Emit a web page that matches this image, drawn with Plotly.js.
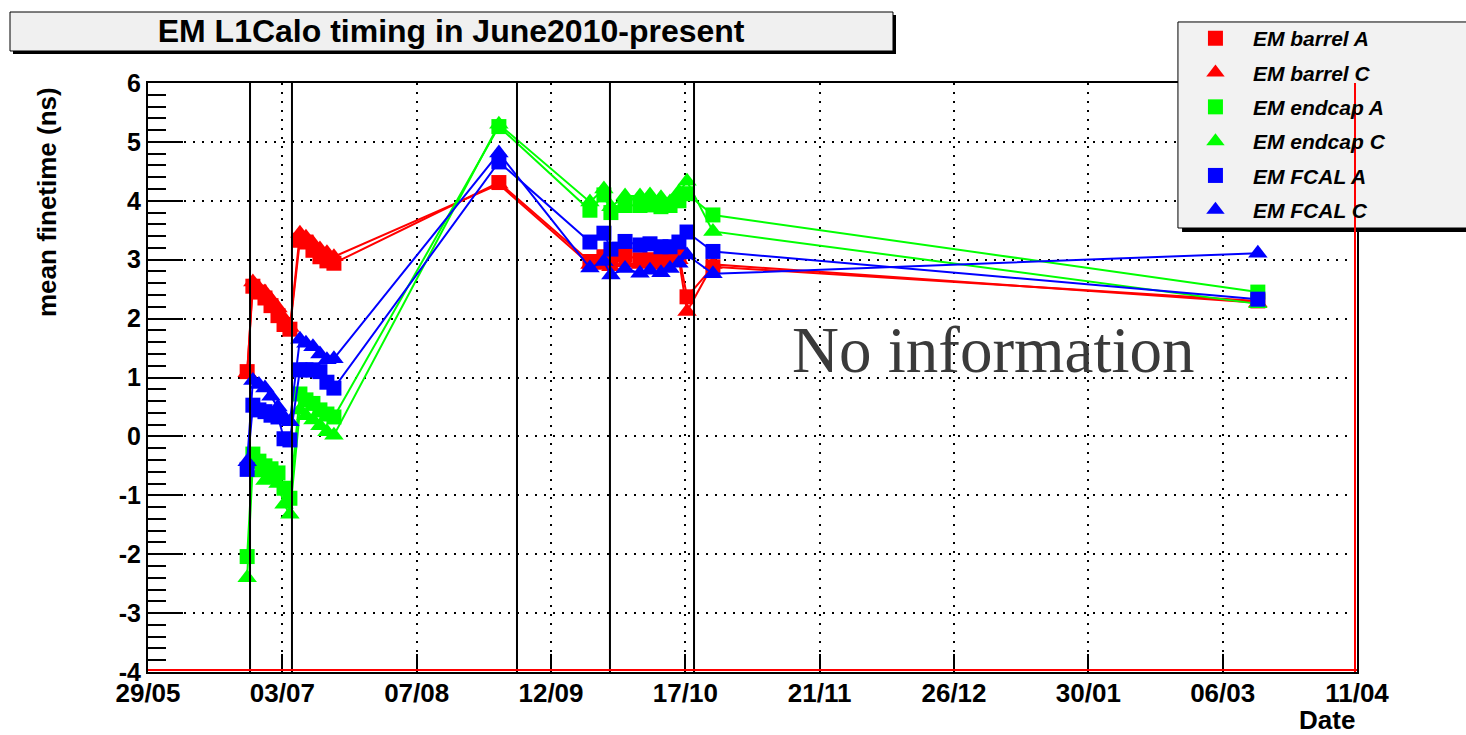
<!DOCTYPE html>
<html>
<head>
<meta charset="utf-8">
<script src="https://cdn.plot.ly/plotly-3.0.1.min.js"></script>
<style>
  html, body { margin: 0; padding: 0; background: #ffffff; }
  #chart { width: 1466px; height: 735px; }
</style>
</head>
<body>
<div id="chart"></div>
<script>
// Calibration runs (date of each run)
const runDates = [
  '2010-06-24 00:00', '2010-06-25 12:00', '2010-06-27 02:00', '2010-06-28 16:00',
  '2010-06-30 06:00', '2010-07-02 02:00', '2010-07-03 16:00', '2010-07-05 05:00',
  '2010-07-07 20:00', '2010-07-09 10:00', '2010-07-11 06:00', '2010-07-13 02:00',
  '2010-07-14 22:00', '2010-07-16 18:00',
  '2010-08-29 00:00',
  '2010-09-21 21:00', '2010-09-25 13:00', '2010-09-27 09:00', '2010-10-01 02:00',
  '2010-10-05 00:00', '2010-10-07 15:00', '2010-10-10 12:00', '2010-10-12 21:00',
  '2010-10-15 05:00', '2010-10-17 08:00', '2010-10-24 03:00',
  '2011-03-16 00:00'
];

// Mean finetime (ns) per partition
const emBarrelA  = [1.10, 2.55, 2.45, 2.35, 2.22, 2.05, 1.90, 1.82, 3.33, 3.30, 3.16, 3.05, 2.98, 2.94, 4.31,
                    2.97, 3.05, 3.00, 3.08, 3.00, 3.00, 2.97, 3.02, 3.08, 2.37, 2.88, 2.30];
const emBarrelC  = [1.08, 2.62, 2.52, 2.45, 2.33, 2.18, 2.00, 1.85, 3.45, 3.38, 3.28, 3.18, 3.12, 3.05, 4.28,
                    2.92, 2.90, 2.88, 2.95, 2.92, 2.95, 2.90, 2.95, 3.00, 2.12, 2.92, 2.27];
const emEndcapA  = [-2.04, -0.30, -0.42, -0.50, -0.55, -0.62, -0.88, -1.05, 0.72, 0.62, 0.56, 0.45, 0.38, 0.33, 5.26,
                    3.84, 4.10, 3.80, 3.92, 3.92, 3.93, 3.90, 3.92, 4.00, 4.12, 3.76, 2.45];
const emEndcapC  = [-2.40, -0.45, -0.62, -0.75, -0.72, -0.80, -1.15, -1.32, 0.45, 0.35, 0.28, 0.18, 0.08, 0.02, 5.30,
                    3.98, 4.20, 3.90, 4.08, 4.08, 4.10, 4.05, 3.98, 4.15, 4.33, 3.48, 2.25];
const emFcalA    = [-0.56, 0.53, 0.45, 0.42, 0.36, 0.33, -0.04, -0.06, 1.13, 1.13, 1.13, 1.10, 0.92, 0.82, 4.66,
                    3.30, 3.45, 3.18, 3.31, 3.25, 3.27, 3.22, 3.22, 3.30, 3.47, 3.14, 2.33];
const emFcalC    = [-0.43, 0.95, 0.88, 0.82, 0.68, 0.50, 0.33, 0.25, 1.65, 1.58, 1.52, 1.40, 1.30, 1.32, 4.81,
                    2.86, 2.97, 2.74, 2.85, 2.77, 2.82, 2.78, 2.85, 2.94, 3.08, 2.76, 3.11];

const seriesNames  = ['EM barrel A', 'EM barrel C', 'EM endcap A', 'EM endcap C', 'EM FCAL A', 'EM FCAL C'];
const seriesValues = [emBarrelA, emBarrelC, emEndcapA, emEndcapC, emFcalA, emFcalC];
const seriesColors = ['#ff0000', '#ff0000', '#00ff00', '#00ff00', '#0000ff', '#0000ff'];
const seriesSymbols = ['square', 'triangle-up', 'square', 'triangle-up', 'square', 'triangle-up'];

// Timing-change markers (vertical solid lines)
const changeDates = ['2010-06-24 18:00', '2010-07-05 18:00', '2010-09-02 18:00', '2010-09-27 03:00', '2010-10-19 04:00'];

// Date axis
const axisStart = '2010-05-29';
const axisEnd = '2011-04-11';
const tickLabels = ['29/05', '03/07', '07/08', '12/09', '17/10', '21/11', '26/12', '30/01', '06/03', '11/04'];

// Value axis
const yTickVals = [-4, -3, -2, -1, 0, 1, 2, 3, 4, 5, 6];
const yTickLabels = ['-4', '-3', '-2', '-1', '0', '1', '2', '3', '4', '5', '6'];

function fmt(ms) {
  const d = new Date(ms);
  const p = n => String(n).padStart(2, '0');
  return d.getUTCFullYear() + '-' + p(d.getUTCMonth() + 1) + '-' + p(d.getUTCDate()) + ' ' +
         p(d.getUTCHours()) + ':' + p(d.getUTCMinutes()) + ':' + p(d.getUTCSeconds());
}
const t0 = Date.parse(axisStart + 'T00:00:00Z');
const t1 = Date.parse(axisEnd + 'T00:00:00Z');
const tickVals = tickLabels.map((_, i) => fmt(t0 + (t1 - t0) * i / (tickLabels.length - 1)));

const traces = [];
seriesNames.forEach((name, i) => {
  traces.push({
    type: 'scatter', mode: 'lines', x: runDates, y: seriesValues[i],
    line: { color: seriesColors[i], width: 2 },
    legendgroup: 'g' + i, showlegend: false, hoverinfo: 'skip'
  });
  traces.push({
    type: 'scatter', mode: 'markers', name: name, x: runDates, y: seriesValues[i],
    marker: { color: seriesColors[i], symbol: seriesSymbols[i], size: seriesSymbols[i] === 'square' ? 15 : 17,
              line: { width: 0 } },
    legendgroup: 'g' + i
  });
});

const sans = 'Liberation Sans, Arial, sans-serif';

const shapes = [];
// title box with shadow
shapes.push({ type: 'rect', xref: 'paper', yref: 'paper', x0: -0.11166, x1: 0.61869, y0: 1.04924, y1: 1.11545,
              fillcolor: '#000000', line: { width: 0 }, layer: 'above' });
shapes.push({ type: 'rect', xref: 'paper', yref: 'paper', x0: -0.11414, x1: 0.61621, y0: 1.05433, y1: 1.12054,
              fillcolor: '#f0f0f0', line: { color: '#000000', width: 1 }, layer: 'above' });
// legend box with shadow
shapes.push({ type: 'rect', xref: 'paper', yref: 'paper', x0: 0.8553, x1: 1.2, y0: 0.7470, y1: 1.0968,
              fillcolor: '#000000', line: { width: 0 }, layer: 'above' });
shapes.push({ type: 'rect', xref: 'paper', yref: 'paper', x0: 0.8519, x1: 1.2, y0: 0.7538, y1: 1.1036,
              fillcolor: '#f2f2f2', line: { color: '#000000', width: 1 }, layer: 'above' });
// timing change lines
changeDates.forEach(d => shapes.push({
  type: 'line', xref: 'x', yref: 'paper', x0: d, x1: d, y0: 0, y1: 1,
  line: { color: '#000000', width: 2 }, layer: 'above'
}));
// red frame edges (bottom and right)
shapes.push({ type: 'line', xref: 'paper', yref: 'y', ysizemode: 'pixel', yanchor: -4, y0: 2, y1: 2, x0: 0, x1: 1,
              line: { color: '#ff0000', width: 2 }, layer: 'above' });
shapes.push({ type: 'line', xref: 'x', yref: 'paper', xsizemode: 'pixel', xanchor: axisEnd, x0: -2, x1: -2, y0: 0, y1: 1,
              line: { color: '#ff0000', width: 2 }, layer: 'above' });

const layout = {
  width: 1466, height: 735,
  margin: { l: 148, r: 109, t: 83, b: 63 },
  paper_bgcolor: '#ffffff', plot_bgcolor: '#ffffff',
  title: {
    text: 'EM L1Calo timing in June2010-present',
    font: { family: sans, size: 32, color: '#000000', weight: 'bold' },
    xref: 'container', x: 0.3077, xanchor: 'center',
    yref: 'container', y: 0.958, yanchor: 'middle'
  },
  xaxis: {
    type: 'date', range: [axisStart, axisEnd],
    tickmode: 'array', tickvals: tickVals, ticktext: tickLabels,
    ticks: 'inside', ticklen: 18, tickwidth: 2, tickcolor: '#000000',
    showgrid: true, gridcolor: '#000000', gridwidth: 2, griddash: '2px,7px',
    showline: true, linecolor: '#000000', linewidth: 2, mirror: true,
    zeroline: false, ticklabelstandoff: -3,
    tickfont: { family: sans, size: 26, color: '#000000', weight: 'bold' }
  },
  yaxis: {
    range: [-4, 6], tickmode: 'array', tickvals: yTickVals, ticktext: yTickLabels,
    ticks: 'inside', ticklen: 35, tickwidth: 2, tickcolor: '#000000',
    minor: { dtick: 0.2, ticks: 'inside', ticklen: 18, tickwidth: 2, tickcolor: '#000000', showgrid: false },
    showgrid: true, gridcolor: '#000000', gridwidth: 2, griddash: '2px,7px',
    showline: true, linecolor: '#000000', linewidth: 2, mirror: true,
    zeroline: false,
    tickfont: { family: sans, size: 25, color: '#000000', weight: 'bold' }
  },
  showlegend: true,
  legend: {
    x: 0.8519, xanchor: 'left', y: 1.1102, yanchor: 'top',
    bgcolor: 'rgba(0,0,0,0)', borderwidth: 0,
    itemwidth: 65, tracegroupgap: 4, itemclick: false,
    font: { family: sans, size: 21, color: '#000000', weight: 'bold', style: 'italic' }
  },
  annotations: [
    { text: 'mean finetime (ns)', textangle: -90, xref: 'paper', yref: 'paper', x: 0, y: 1,
      xanchor: 'center', yanchor: 'top', xshift: -101, yshift: -2, showarrow: false,
      font: { family: sans, size: 26, color: '#000000', weight: 'bold' } },
    { text: 'Date', xref: 'paper', yref: 'paper', x: 1, y: 0, xanchor: 'right', yanchor: 'top',
      yshift: -31, showarrow: false,
      font: { family: sans, size: 26, color: '#000000', weight: 'bold' } },
    { text: 'No information', xref: 'paper', yref: 'paper', x: 0.699, y: 0.5467,
      xanchor: 'center', yanchor: 'middle', showarrow: false,
      font: { family: 'Liberation Serif, Times New Roman, serif', size: 65, color: '#3a3a3a' } }
  ],
  shapes: shapes
};

Plotly.newPlot('chart', traces, layout, { displayModeBar: false, staticPlot: true });
</script>
</body>
</html>
